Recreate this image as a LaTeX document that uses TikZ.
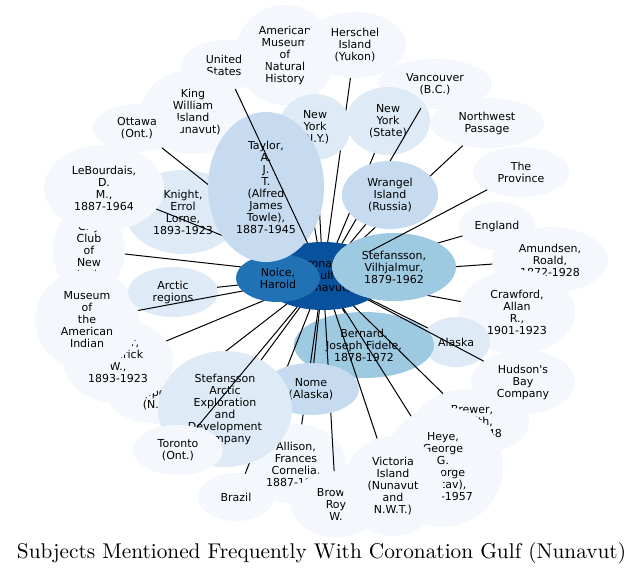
\documentclass[tikz,border=0pt]{standalone}
\usepackage{fontspec}
\usetikzlibrary{shapes.geometric}
\newfontfamily\lblfont{DejaVu Sans}
\definecolor{cC}{HTML}{08519C}
\definecolor{cN}{HTML}{2171B5}
\definecolor{cM}{HTML}{9ECAE1}
\definecolor{cS}{HTML}{C6DBEF}
\definecolor{cD}{HTML}{DEEBF7}
\definecolor{cL}{HTML}{F4F8FD}
\begin{document}
\begin{tikzpicture}[x=1pt,y=-1pt,
  nd/.style n args={3}{shape=ellipse,fill=#1,minimum width=#2pt,minimum height=#3pt,inner sep=0pt,outer sep=0pt},
  lbl/.style={font=\lblfont\fontsize{11}{12}\selectfont,align=center,inner sep=0pt,text=black},
  edge/.style={draw=black,line width=1pt},
  ttl/.style={font=\rmfamily\fontsize{10}{12}\selectfont,scale=2.13,inner sep=0pt,anchor=base}]
\fill[white] (0,0) rectangle (644,574);
\useasboundingbox (0,0) rectangle (644,574);
% centre
\node[nd={cC}{128}{68},label={[lbl]center:{Coronation\\Gulf\\(Nunavut)}}] (c) at (323,276) {};
% outer nodes
\node[nd={cL}{100}{100},label={[lbl]center:{American\\Museum\\of\\Natural\\History}}] (amnh) at (285,55) {};
\node[nd={cL}{84}{50},label={[lbl]center:{United\\States}}] (us) at (224,65) {};
\node[nd={cL}{102}{66},label={[lbl]center:{Herschel\\Island\\(Yukon)}}] (hers) at (355,45) {};
\node[nd={cL}{114}{50},label={[lbl]center:{Vancouver\\(B.C.)}}] (vanc) at (435,84) {};
\node[nd={cL}{114}{50},label={[lbl]center:{Northwest\\Passage}}] (nwp) at (487,123) {};
\node[nd={cL}{96}{50},label={[lbl]center:{The\\Province}}] (prov) at (521,172) {};
\node[nd={cL}{76}{48},label={[lbl]center:{England}}] (eng) at (497,226) {};
\node[nd={cL}{116}{66},label={[lbl]center:{Amundsen,\\Roald,\\1872-1928}}] (amu) at (550,260) {};
\node[nd={cL}{116}{84},label={[lbl]center:{Crawford,\\Allan\\R.,\\1901-1923}}] (craw) at (517,312) {};
\node[nd={cL}{114}{66},label={[lbl]center:{Brewer,\\Griffith,\\1867-1948}}] (brew) at (472,422) {};
\node[nd={cL}{104}{64},label={[lbl]center:{Hudson's\\Bay\\Company}}] (hud) at (523,382) {};
\node[nd={cL}{120}{120},label={[lbl]center:{Heye,\\George\\G.\\(George\\Gustav),\\1874-1957}}] (heye) at (443,467) {};
\node[nd={cL}{76}{48},label={[lbl]center:{Brazil}}] (braz) at (236,497) {};
\node[nd={cL}{100}{80},label={[lbl]center:{Allison,\\Frances\\Cornelia,\\1887-1970}}] (alli) at (296,464) {};
\node[nd={cL}{90}{66},label={[lbl]center:{Brown,\\Roy\\W.}}] (brown) at (336,504) {};
\node[nd={cL}{100}{100},label={[lbl]center:{Victoria\\Island\\(Nunavut\\and\\N.W.T.)}}] (vict) at (393,486) {};
\node[nd={cL}{104}{84},label={[lbl]center:{King\\William\\Island\\(Nunavut)}}] (kwi) at (193,112) {};
\node[nd={cL}{88}{48},label={[lbl]center:{Ottawa\\(Ont.)}}] (ott) at (137,128) {};
\node[nd={cD}{116}{84},label={[lbl]center:{Knight,\\Errol\\Lorne,\\1893-1923}}] (kni) at (183,212) {};
\node[nd={cL}{72}{90},label={[lbl]center:{City\\Club\\of\\New\\York}}] (club) at (89,250) {};
\node[nd={cL}{120}{86},label={[lbl]center:{LeBourdais,\\D.\\M.,\\1887-1964}}] (leb) at (104,188) {};
\node[nd={cL}{110}{50},label={[lbl]center:{Coppermine\\(N.W.T.)}}] (copp) at (164,399) {};
\node[nd={cL}{110}{84},label={[lbl]center:{Maurer,\\Frederick\\W.,\\1893-1923}}] (maur) at (118,361) {};
\node[nd={cL}{104}{100},label={[lbl]center:{Museum\\of\\the\\American\\Indian}}] (mai) at (87,320) {};
\node[nd={cD}{90}{50},label={[lbl]center:{Arctic\\regions}}] (arc) at (173,292) {};
\node[nd={cD}{84}{68},label={[lbl]center:{New\\York\\(State)}}] (nys) at (388,121) {};
\node[nd={cD}{68}{50},label={[lbl]center:{Alaska}}] (alas) at (456,342) {};
\node[nd={cM}{140}{66},label={[lbl]center:{Bernard,\\Joseph Fidele,\\1878-1972}}] (bern) at (364,345) {};
% connectors lying under the inner nodes
\draw[edge] (c) -- (kwi);
\draw[edge] (c) -- (ott);
\draw[edge] (c) -- (leb);
\draw[edge] (c) -- (kni);
\draw[edge] (c) -- (club);
\draw[edge] (c) -- (arc);
\draw[edge] (c) -- (mai);
\draw[edge] (c) -- (maur);
\draw[edge] (c) -- (copp);
\draw[edge] (c) -- (amnh);
\draw[edge] (c) -- (hers);
\draw[edge] (c) -- (nys);
\draw[edge] (c) -- (vanc);
\draw[edge] (c) -- (nwp);
\draw[edge] (c) -- (eng);
\draw[edge] (c) -- (amu);
\draw[edge] (c) -- (craw);
\draw[edge] (c) -- (alas);
\draw[edge] (c) -- (hud);
\draw[edge] (c) -- (brew);
\draw[edge] (c) -- (heye);
\draw[edge] (c) -- (vict);
\draw[edge] (c) -- (brown);
\draw[edge] (c) -- (alli);
\draw[edge] (c) -- (braz);
\draw[edge] (c) -- (bern);
% inner nodes
\node[nd={cD}{72}{66},label={[lbl]center:{New\\York\\(N.Y.)}}] (nyny) at (315,127) {};
\draw[edge] (c) -- (nyny);
\node[nd={cS}{96}{68},label={[lbl]center:{Wrangel\\Island\\(Russia)}}] (wran) at (390,195) {};
\draw[edge] (c) -- (wran);
\node[nd={cM}{124}{68},label={[lbl]center:{Stefansson,\\Vilhjalmur,\\1879-1962}}] (stv) at (394,267) {};
\draw[edge] (c) -- (prov);
\node[nd={cS}{96}{52},label={[lbl]center:{Nome\\(Alaska)}}] (nome) at (311,389) {};
\draw[edge] (c) -- (nome);
\node[nd={cD}{134}{116},label={[lbl]center:{Stefansson\\Arctic\\Exploration\\and\\Development\\Company}}] (sa) at (225,409) {};
\draw[edge] (c) -- (sa);
\node[nd={cL}{90}{50},label={[lbl]center:{Toronto\\(Ont.)}}] (tor) at (178,450) {};
\draw[edge] (c) -- (tor);
\node[nd={cN}{84}{48},label={[lbl]center:{Noice,\\Harold}}] (noi) at (278,278) {};
\node[nd={cS}{116}{150},label={[lbl]center:{Taylor,\\A.\\J.\\T.\\(Alfred\\James\\Towle),\\1887-1945}}] (tay) at (266,187) {};
\draw[edge] (c) -- (us);
% title
\node[ttl] (title) at (321.5,558) {Subjects Mentioned Frequently With Coronation Gulf (Nunavut)};
\end{tikzpicture}
\end{document}
